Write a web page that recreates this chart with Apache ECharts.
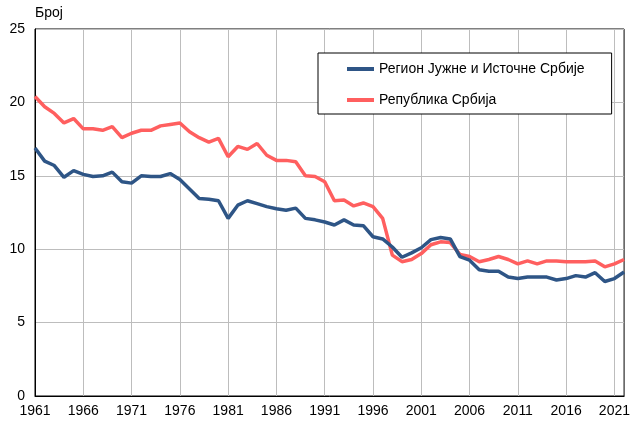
<!DOCTYPE html>
<html><head><meta charset="utf-8">
<script src="https://cdn.jsdelivr.net/npm/echarts@6/dist/echarts.min.js"></script>
<style>html,body{margin:0;padding:0;background:#fff}#c{width:633px;height:421px}</style>
</head><body><div id="c"></div>
<script>
const years = [];
for (let y = 1961; y <= 2022; y++) years.push(String(y));
const regionName = 'Регион Јужне и Источне Србије';
const serbiaName = 'Република Србија';
const regionValues = [16.9,16.0,15.7,14.9,15.35,15.1,14.95,15.0,15.25,14.6,14.5,15.0,14.95,14.95,15.15,14.75,14.1,13.45,13.4,13.3,12.1,13.0,13.3,13.1,12.9,12.75,12.65,12.8,12.1,12.0,11.85,11.65,12.0,11.65,11.6,10.85,10.7,10.15,9.45,9.75,10.1,10.65,10.8,10.7,9.5,9.25,8.6,8.5,8.5,8.1,8.0,8.1,8.1,8.1,7.9,8.0,8.2,8.1,8.4,7.8,8.0,8.45];
const serbiaValues = [20.4,19.7,19.25,18.6,18.9,18.2,18.2,18.1,18.35,17.6,17.9,18.1,18.1,18.4,18.5,18.6,18.0,17.6,17.3,17.55,16.3,17.0,16.8,17.2,16.4,16.05,16.05,15.95,15.0,14.95,14.6,13.3,13.35,12.95,13.15,12.9,12.1,9.6,9.15,9.3,9.7,10.3,10.5,10.45,9.65,9.5,9.15,9.3,9.5,9.3,9.0,9.2,9.0,9.2,9.2,9.15,9.15,9.15,9.2,8.8,9.0,9.3];
const yTicks = [0,5,10,15,20,25];
const chart = echarts.init(document.getElementById('c'), null, {renderer:'canvas'});
const font = 'Liberation Sans, Arial, sans-serif';
chart.setOption({
  animation:false,
  backgroundColor:'#fff',
  grid:{left:35,right:7,top:29,bottom:25,show:true,borderColor:'#000',borderWidth:1,backgroundColor:'transparent'},
  legend:{
    orient:'vertical', left:318, top:53,
    padding:[9,27,7,29], itemGap:17,
    backgroundColor:'#fff', borderColor:'#000', borderWidth:1,
    icon:'rect', itemWidth:27, itemHeight:4,
    textStyle:{fontFamily:font,fontSize:14,color:'#000'},
    data:[regionName, serbiaName]
  },
  xAxis:{
    type:'category', data:years, boundaryGap:false,
    axisLine:{show:true,lineStyle:{color:'#000',width:1}},
    axisTick:{show:false},
    axisLabel:{interval:4,color:'#000',fontFamily:font,fontSize:14,margin:8},
    splitLine:{show:true,interval:4,lineStyle:{color:'#BDBDBD',width:1}}
  },
  yAxis:{
    type:'value', min:yTicks[0], max:yTicks[yTicks.length-1], interval:5,
    name:'Број', nameLocation:'end', nameGap:9,
    nameTextStyle:{fontFamily:font,fontSize:14,color:'#000',align:'left',padding:[0,0,0,0]},
    axisLine:{show:true,lineStyle:{color:'#000',width:1}},
    axisTick:{show:false},
    axisLabel:{color:'#000',fontFamily:font,fontSize:14,margin:10},
    splitLine:{show:true,lineStyle:{color:'#BDBDBD',width:1}}
  },
  series:[
    {name:regionName,type:'line',data:regionValues,symbol:'none',smooth:false,
     lineStyle:{color:'#2E5586',width:3.5},itemStyle:{color:'#2E5586'},z:3},
    {name:serbiaName,type:'line',data:serbiaValues,symbol:'none',smooth:false,
     lineStyle:{color:'#FF5F5F',width:3.5},itemStyle:{color:'#FF5F5F'},z:2}
  ]
});
</script></body></html>
